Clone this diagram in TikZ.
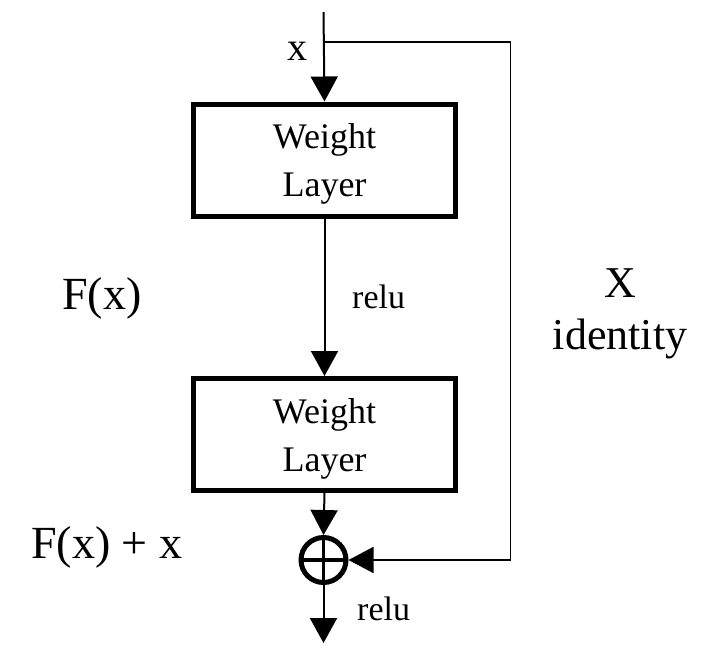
\documentclass[tikz,border=0pt]{standalone}
\usepackage{fontspec}
\setmainfont{Liberation Serif}
\usetikzlibrary{arrows.meta}
\begin{document}
\begin{tikzpicture}[x=1pt,y=-1pt,
  wbox/.style={draw,line width=5pt,minimum width=262pt,minimum height=112pt,inner sep=0pt,align=center,font=\fontsize{36}{48}\selectfont},
  conn/.style={line width=2pt,-{Triangle[length=25pt,width=27pt]}},
  loopline/.style={line width=1.7pt,-{Triangle[length=25pt,width=26pt]}},
  lbl/.style={inner sep=0pt,anchor=base west},
  sumnode/.style={draw,circle,line width=5pt,minimum size=45pt,inner sep=0pt}]
\useasboundingbox (0,0) rectangle (724,672);
\coordinate (top) at (323.5,12);
\coordinate (j) at (323.5,42);
\coordinate (rc) at (510.5,42);
\coordinate (bot) at (323.5,643);
\node[wbox] (b1) at (324.5,160) {\rule{0pt}{33pt}Weight\\Layer\rule[-8pt]{0pt}{8pt}};
\node[wbox] (b2) at (324.5,434.5) {\rule{0pt}{33pt}Weight\\Layer\rule[-8pt]{0pt}{8pt}};
\node[sumnode] (s) at (323.5,560) {};
\draw[line width=3.5pt] ([yshift=-22.5pt]s.center) -- ([yshift=22.5pt]s.center);
\draw[line width=3.5pt] ([xshift=-22.5pt]s.center) -- ([xshift=22.5pt]s.center);
\draw[conn] (top) -- (b1.north);
\draw[conn] (b1.south) -- (b2.north);
\draw[conn] (b2.south) -- (s.north);
\draw[conn] (s.south) -- (bot);
\draw[loopline] (j) -- (rc) |- (s.east);
\node[lbl,font=\fontsize{40}{48}\selectfont] (xin) at (287,60) {x};
\node[lbl,font=\fontsize{34}{40}\selectfont] (relu1) at (352,308) {relu};
\node[lbl,font=\fontsize{34}{40}\selectfont] (relu2) at (357,620) {relu};
\node[lbl,font=\fontsize{46}{52}\selectfont] (fx) at (62,309) {F(x)};
\node[lbl,font=\fontsize{46}{52}\selectfont] (fxx) at (31,558) {F(x) + x};
\node[inner sep=0pt,align=center,font=\fontsize{44}{52}\selectfont] (idn) at (620,313) {\rule{0pt}{30pt}X\\identity\rule[-10pt]{0pt}{10pt}};
\end{tikzpicture}
\end{document}
